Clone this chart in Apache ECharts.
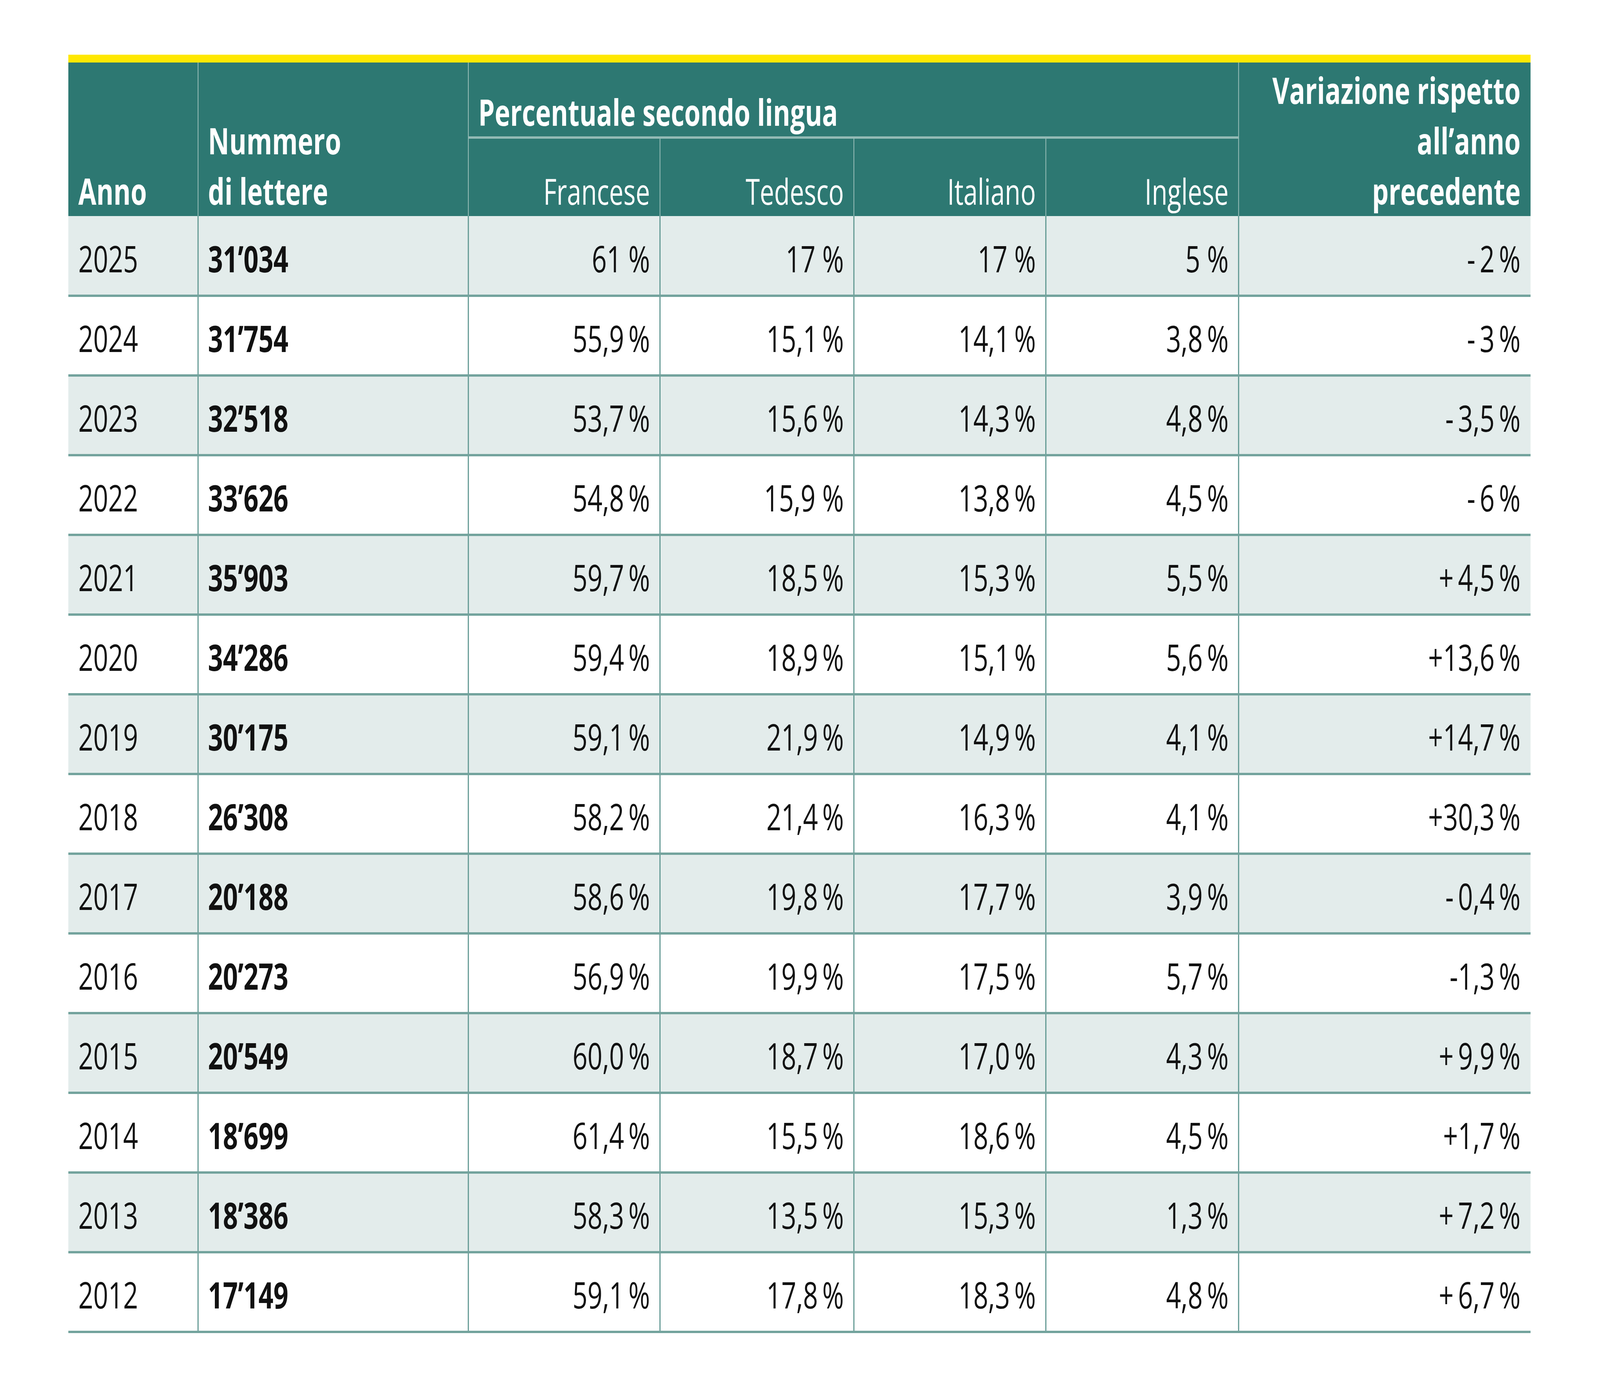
<!DOCTYPE html>
<html>
<head>
<meta charset="utf-8">
<script src="https://cdn.jsdelivr.net/npm/echarts@6/dist/echarts.min.js"></script>
<style>
html,body{margin:0;padding:0;background:#ffffff;overflow:hidden;}
#c{width:100vw;height:100vh;}
</style>
</head>
<body>
<div id="c"></div>
<script>
// ---------- DATA ----------
const years = ['2025','2024','2023','2022','2021','2020','2019','2018','2017','2016','2015','2014','2013','2012'];
const letters = ['31\u2019034','31\u2019754','32\u2019518','33\u2019626','35\u2019903','34\u2019286','30\u2019175','26\u2019308','20\u2019188','20\u2019273','20\u2019549','18\u2019699','18\u2019386','17\u2019149'];
const francese = ['61 %','55,9\u2009%','53,7\u2009%','54,8\u2009%','59,7\u2009%','59,4\u2009%','59,1\u2009%','58,2\u2009%','58,6\u2009%','56,9\u2009%','60,0\u2009%','61,4\u2009%','58,3\u2009%','59,1\u2009%'];
const tedesco = ['17 %','15,1\u2009%','15,6\u2009%','15,9 %','18,5\u2009%','18,9\u2009%','21,9\u2009%','21,4\u2009%','19,8\u2009%','19,9\u2009%','18,7\u2009%','15,5\u2009%','13,5\u2009%','17,8\u2009%'];
const italiano = ['17 %','14,1\u2009%','14,3\u2009%','13,8\u2009%','15,3\u2009%','15,1\u2009%','14,9\u2009%','16,3\u2009%','17,7\u2009%','17,5\u2009%','17,0\u2009%','18,6\u2009%','15,3\u2009%','18,3\u2009%'];
const inglese = ['5 %','3,8\u2009%','4,8\u2009%','4,5\u2009%','5,5\u2009%','5,6\u2009%','4,1\u2009%','4,1\u2009%','3,9\u2009%','5,7\u2009%','4,3\u2009%','4,5\u2009%','1,3\u2009%','4,8\u2009%'];
const variazione = ['-\u20092\u2009%','-\u20093\u2009%','-\u20093,5\u2009%','-\u20096\u2009%','+\u20094,5\u2009%','+13,6\u2009%','+14,7\u2009%','+30,3\u2009%','-\u20090,4\u2009%','-1,3\u2009%','+\u20099,9\u2009%','+1,7\u2009%','+\u20097,2\u2009%','+\u20096,7\u2009%'];

const headerYear = 'Anno';
const headerLetters = ['Nummero', 'di lettere'];
const headerGroup = 'Percentuale secondo lingua';
const headerLangs = ['Francese', 'Tedesco', 'Italiano', 'Inglese'];
const headerChange = ['Variazione rispetto', 'all\u2019anno', 'precedente'];

// ---------- LAYOUT (axis units = reference pixels) ----------
const COL_EDGES = [0, 467, 1440, 2130, 2828, 3519, 4213, 5264];
const TABLE_W = 5264;
const YELLOW_B = 20;
const HEAD_B = 413;
const SUB_Y = 212;
const ROW_H = 204;
const TABLE_H = HEAD_B + ROW_H * years.length;
const PAD_L = 36, PAD_R = 36;

// map the 5760x3550 reference frame onto whatever viewport we get
const SX = window.innerWidth / 5760;
const SY = window.innerHeight / 3550;

const FONT_FAMILY = '"Open Sans", "Noto Sans", sans-serif';
const TEAL = '#2D7872', YELLOW = '#FFE800', BAND = '#E3ECEB', TXT = '#111111';
const LINE_H = '#73A39D', LINE_V = '#5E9690', HEAD_LINE = '#93BAB5';

function rectEl(api, xa, ya, xb, yb, fill, z2) {
  const p0 = api.coord([xa, ya]), p1 = api.coord([xb, yb]);
  return { type: 'rect', z2: z2 || 0,
    shape: { x: p0[0], y: p0[1], width: p1[0] - p0[0], height: p1[1] - p0[1] },
    style: { fill: fill } };
}
function lineEl(api, xa, ya, xb, yb, color, w, z2) {
  const p0 = api.coord([xa, ya]), p1 = api.coord([xb, yb]);
  const k = (xa === xb) ? SX : SY;
  return { type: 'line', z2: z2 || 5,
    shape: { x1: p0[0], y1: p0[1], x2: p1[0], y2: p1[1] },
    style: { stroke: color, lineWidth: Math.max(1, w * k) } };
}
function textEl(api, x, y, str, align, weight, size, color) {
  const p = api.coord([x, y]);
  return { type: 'text', z2: 20,
    x: p[0], y: p[1], scaleX: SX / SY, scaleY: 1,
    style: { text: str, x: 0, y: 0,
      align: align, textAlign: align, verticalAlign: 'middle', textVerticalAlign: 'middle',
      font: weight + ' ' + (size * SY) + 'px ' + FONT_FAMILY, fill: color } };
}

// canvas "middle" sits ~0.285em above the baseline for Open Sans
function mid(baseline, size) { return baseline - 0.285 * size; }

function renderHeader(params, api) {
  const ch = [];
  ch.push(rectEl(api, 0, 0, TABLE_W, YELLOW_B, YELLOW, 1));
  ch.push(rectEl(api, 0, YELLOW_B, TABLE_W, HEAD_B, TEAL, 1));
  [1, 2, 6].forEach(function (c) {
    ch.push(lineEl(api, COL_EDGES[c], YELLOW_B, COL_EDGES[c], HEAD_B, HEAD_LINE, 3, 6));
  });
  [3, 4, 5].forEach(function (c) {
    ch.push(lineEl(api, COL_EDGES[c], SUB_Y, COL_EDGES[c], HEAD_B, HEAD_LINE, 3, 6));
  });
  ch.push(lineEl(api, COL_EDGES[2], SUB_Y, COL_EDGES[6], SUB_Y, HEAD_LINE, 6, 6));

  const BS = 94, RS = 92;
  const base3 = [126, 255, 384];
  ch.push(textEl(api, COL_EDGES[0] + PAD_L, mid(base3[2], BS), headerYear, 'left', 'bold', BS, '#fff'));
  headerLetters.forEach(function (t, i) {
    ch.push(textEl(api, COL_EDGES[1] + PAD_L, mid(base3[1 + i], BS), t, 'left', 'bold', BS, '#fff'));
  });
  ch.push(textEl(api, COL_EDGES[2] + PAD_L, mid(182, BS), headerGroup, 'left', 'bold', BS, '#fff'));
  headerLangs.forEach(function (t, i) {
    ch.push(textEl(api, COL_EDGES[3 + i] - PAD_R, mid(base3[2], RS), t, 'right', 'normal', RS, '#fff'));
  });
  headerChange.forEach(function (t, i) {
    ch.push(textEl(api, COL_EDGES[7] - PAD_R, mid(base3[i], BS), t, 'right', 'bold', BS, '#fff'));
  });
  return { type: 'group', children: ch };
}

function renderRow(params, api) {
  const r = api.value(0);
  const top = HEAD_B + r * ROW_H, bot = top + ROW_H;
  const ch = [];
  ch.push(rectEl(api, 0, top, TABLE_W, bot, r % 2 === 0 ? BAND : '#ffffff', 0));
  for (let c = 1; c < COL_EDGES.length - 1; c++) {
    ch.push(lineEl(api, COL_EDGES[c], top, COL_EDGES[c], bot, LINE_V, 4, 8));
  }
  ch.push(lineEl(api, 0, bot, TABLE_W, bot, LINE_H, 6, 10));
  const FS = 94;
  const ty = top + 110 + 0.072 * FS;
  ch.push(textEl(api, COL_EDGES[0] + PAD_L, ty, years[r], 'left', 'normal', FS, TXT));
  ch.push(textEl(api, COL_EDGES[1] + PAD_L, ty, letters[r], 'left', 'bold', FS, TXT));
  const vals = [francese[r], tedesco[r], italiano[r], inglese[r], variazione[r]];
  vals.forEach(function (v, i) {
    ch.push(textEl(api, COL_EDGES[3 + i] - PAD_R, ty, v, 'right', 'normal', FS, TXT));
  });
  return { type: 'group', children: ch };
}

const chart = echarts.init(document.getElementById('c'), null, { renderer: 'canvas' });
chart.setOption({
  animation: false,
  backgroundColor: '#ffffff',
  grid: { left: 246 * SX, top: 140 * SY, width: TABLE_W * SX, height: TABLE_H * SY, containLabel: false },
  xAxis: { type: 'value', min: 0, max: TABLE_W, show: false },
  yAxis: { type: 'value', min: 0, max: TABLE_H, inverse: true, show: false },
  series: [
    { type: 'custom', name: 'rows', coordinateSystem: 'cartesian2d',
      data: years.map(function (y, i) { return [i, Number(y)]; }),
      renderItem: renderRow, silent: true, z: 2 },
    { type: 'custom', name: 'header', coordinateSystem: 'cartesian2d',
      data: [[0, 0]],
      renderItem: renderHeader, silent: true, z: 3 }
  ]
});
</script>
</body>
</html>
